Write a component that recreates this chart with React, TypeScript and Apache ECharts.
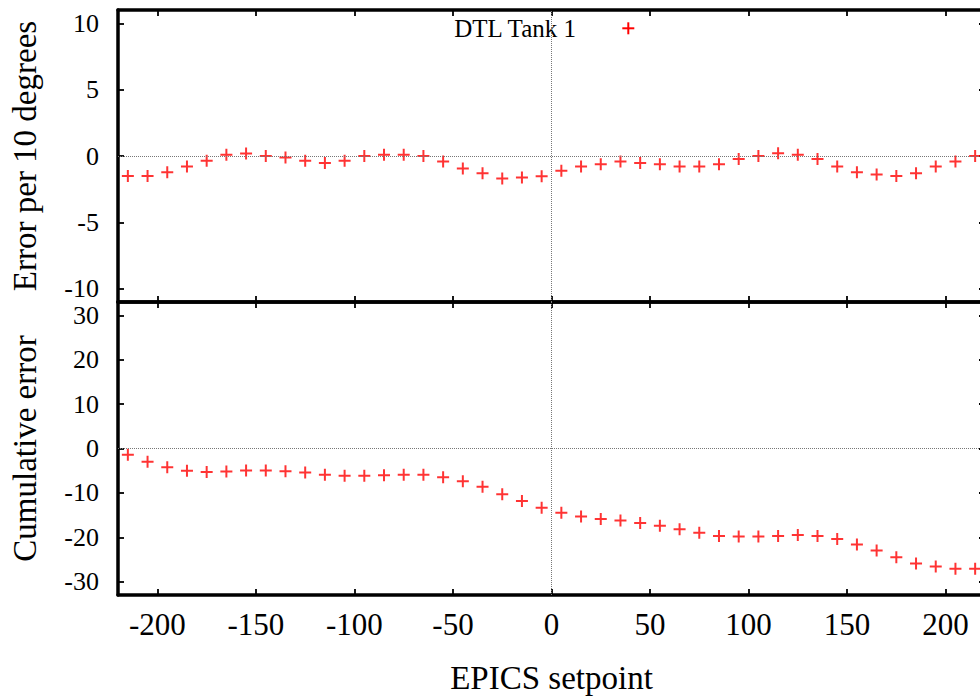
import React, { useEffect, useRef } from "react";
import * as echarts from "echarts";

const setpoints = [
  -215, -205, -195, -185, -175, -165, -155, -145, -135, -125, -115,
  -105, -95, -85, -75, -65, -55, -45, -35, -25, -15, -5,
  5, 15, 25, 35, 45, 55, 65, 75, 85, 95, 105,
  115, 125, 135, 145, 155, 165, 175, 185, 195, 205, 215,
];

const errorPer10 = [
  -1.5, -1.5, -1.22, -0.8, -0.35, 0.1, 0.18, 0.0, -0.12, -0.35, -0.52,
  -0.35, 0.0, 0.1, 0.1, 0.0, -0.42, -0.95, -1.3, -1.7, -1.62, -1.52,
  -1.12, -0.8, -0.62, -0.42, -0.52, -0.62, -0.8, -0.8, -0.62, -0.22, 0.0,
  0.2, 0.1, -0.22, -0.8, -1.22, -1.4, -1.5, -1.3, -0.8, -0.42, 0.0,
];

const cumulativeError = [
  -1.43, -3.0, -4.2, -5.0, -5.3, -5.2, -4.95, -4.95, -5.1, -5.4, -5.9,
  -6.15, -6.15, -6.0, -5.9, -5.9, -6.45, -7.35, -8.6, -10.3, -11.8, -13.36,
  -14.5, -15.3, -15.9, -16.2, -16.8, -17.4, -18.2, -19.0, -19.7, -19.8, -19.8,
  -19.7, -19.5, -19.7, -20.4, -21.6, -23.0, -24.5, -25.9, -26.6, -27.1, -27.1,
];

const xTicks = [-200, -150, -100, -50, 0, 50, 100, 150, 200];
const errTicks = [-10, -5, 0, 5, 10];
const cumTicks = [-30, -20, -10, 0, 10, 20, 30];

const legendLabel = "DTL Tank 1";
const xTitle = "EPICS setpoint";
const errTitle = "Error per 10 degrees";
const cumTitle = "Cumulative error";

const FONT = "'Liberation Serif', 'Times New Roman', Times, 'DejaVu Serif', serif";
const PLUS = "path://M0,5 L10,5 M5,0 L5,10";

export default function App() {
  const ref = useRef<HTMLDivElement>(null);

  useEffect(() => {
    if (!ref.current) return;
    const chart = echarts.init(ref.current, null, { renderer: "svg" });

    const line = { show: true, lineStyle: { color: "#000", width: 3.5 } };
    const tick = (vals: number[]) => ({
      show: true,
      inside: true,
      length: 6,
      customValues: vals,
      lineStyle: { color: "#000", width: 1.8 },
    });
    const noLabel = { show: false };
    const xLabel = {
      show: true,
      customValues: xTicks,
      fontFamily: FONT,
      fontSize: 31,
      color: "#000",
      margin: 14,
    };
    const yLabel = (vals: number[]) => ({
      show: true,
      customValues: vals,
      fontFamily: FONT,
      fontSize: 26,
      lineHeight: 22,
      color: "#000",
      margin: 19,
    });

    const xBase = (grid: number, position: string) => ({
      type: "value",
      gridIndex: grid,
      position,
      min: -220,
      max: 220,
      axisLine: { ...line, onZero: false },
      axisTick: tick(xTicks),
      axisLabel: noLabel,
      splitLine: { show: false },
    });
    const yBase = (grid: number, position: string, mn: number, mx: number, vals: number[]) => ({
      type: "value",
      gridIndex: grid,
      position,
      min: mn,
      max: mx,
      axisLine: { ...line, onZero: false },
      axisTick: tick(vals),
      axisLabel: noLabel,
      splitLine: { show: false },
    });

    const zeroLines = {
      silent: true,
      symbol: ["none", "none"],
      label: { show: false },
      lineStyle: { color: "#777", type: "dotted", width: 1 },
      data: [{ yAxis: 0 }, { xAxis: 0 }],
      animation: false,
    };

    const scatterStyle = {
      type: "scatter",
      symbol: PLUS,
      symbolSize: 12,
      itemStyle: { color: "#ff0000", borderColor: "#ff0000", borderWidth: 2 },
    };

    const nameStyle = { fontFamily: FONT, fontSize: 33, color: "#000" };

    chart.setOption({
      animation: false,
      textStyle: { fontFamily: FONT },
      grid: [
        { left: 116.7, top: 10, width: 868.3, height: 292 },
        { left: 116.7, top: 302, width: 868.3, height: 293 },
      ],
      xAxis: [
        xBase(0, "bottom"),
        xBase(0, "top"),
        {
          ...xBase(1, "bottom"),
          axisLabel: xLabel,
          name: xTitle,
          nameLocation: "middle",
          nameGap: 66,
          nameTextStyle: nameStyle,
        },
        xBase(1, "top"),
      ],
      yAxis: [
        {
          ...yBase(0, "left", -11, 11, errTicks),
          axisLabel: yLabel(errTicks),
          name: errTitle,
          nameLocation: "middle",
          nameRotate: 90,
          nameGap: 77,
          nameTextStyle: nameStyle,
        },
        yBase(0, "right", -11, 11, errTicks),
        {
          ...yBase(1, "left", -33, 33, cumTicks),
          axisLabel: yLabel(cumTicks),
          name: cumTitle,
          nameLocation: "middle",
          nameRotate: 90,
          nameGap: 77,
          nameTextStyle: nameStyle,
        },
        yBase(1, "right", -33, 33, cumTicks),
      ],
      series: [
        {
          ...scatterStyle,
          name: legendLabel,
          xAxisIndex: 0,
          yAxisIndex: 0,
          data: setpoints.map((x, i) => [x, errorPer10[i]]),
          markLine: zeroLines,
        },
        {
          ...scatterStyle,
          name: legendLabel + " cumulative",
          xAxisIndex: 2,
          yAxisIndex: 2,
          data: setpoints.map((x, i) => [x, cumulativeError[i]]),
          markLine: zeroLines,
        },
      ],
      graphic: [
        {
          type: "text",
          x: 576,
          y: 28,
          style: {
            text: legendLabel,
            fontFamily: FONT,
            fontSize: 25,
            fill: "#000",
            textAlign: "right",
            textVerticalAlign: "middle",
          },
        },
        {
          type: "line",
          shape: { x1: 622.3, y1: 28.3, x2: 634.3, y2: 28.3 },
          style: { stroke: "#ff0000", lineWidth: 2 },
        },
        {
          type: "line",
          shape: { x1: 628.3, y1: 22.3, x2: 628.3, y2: 34.3 },
          style: { stroke: "#ff0000", lineWidth: 2 },
        },
      ],
    });

    return () => chart.dispose();
  }, []);

  return (
    <div
      style={{
        position: "fixed",
        left: 0,
        top: 0,
        width: 980,
        height: 700,
        overflow: "hidden",
        background: "#fff",
      }}
    >
      <div ref={ref} style={{ width: 990, height: 700 }} />
    </div>
  );
}
